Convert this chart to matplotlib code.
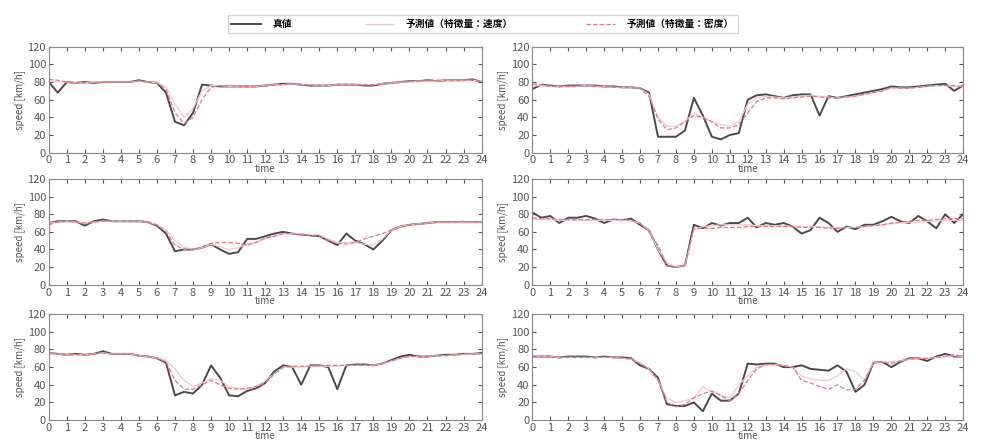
import numpy as np
import matplotlib
matplotlib.use("Agg")
import matplotlib.pyplot as plt

plt.rcParams['font.family'] = ['Noto Sans CJK JP', 'DejaVu Sans']

# time axis: every 30 minutes, 0..24 h
hours = np.arange(0, 24.5, 0.5)

labels = ['真値', '予測値（特徴量：速度）', '予測値（特徴量：密度）']

# panel 1 (top left)
true_1 = [80, 68, 80, 79, 80, 79, 80, 80, 80, 80, 82, 80, 79, 68, 35, 31, 45, 77, 76, 75,
          75, 75, 75, 75, 76, 77, 78, 78, 77, 76, 76, 76, 77, 77, 77, 76, 76, 78, 79, 80,
          81, 81, 82, 81, 82, 82, 82, 83, 80]
speed_1 = [81, 80, 80, 79, 79, 80, 80, 80, 80, 80, 81, 80, 79, 75, 55, 40, 50, 70, 76, 76,
           75, 75, 75, 75, 76, 77, 77, 78, 77, 77, 76, 76, 77, 77, 77, 77, 77, 78, 79, 80,
           80, 81, 81, 81, 82, 82, 82, 82, 81]
dens_1 = [83, 82, 80, 79, 79, 79, 80, 80, 80, 80, 81, 80, 79, 72, 45, 33, 40, 60, 74, 76,
          76, 75, 75, 75, 76, 77, 77, 78, 77, 77, 76, 76, 77, 77, 77, 77, 77, 78, 79, 80,
          81, 81, 82, 82, 82, 82, 82, 82, 81]

# panel 2 (top right)
true_2 = [72, 77, 76, 75, 76, 76, 76, 76, 75, 75, 74, 74, 73, 68, 18, 18, 18, 25, 62, 42,
          18, 15, 20, 22, 60, 65, 66, 64, 62, 65, 66, 66, 42, 64, 62, 64, 66, 68, 70, 72,
          75, 74, 74, 75, 76, 77, 78, 70, 76]
speed_2 = [76, 76, 75, 75, 75, 75, 76, 75, 75, 74, 74, 74, 73, 66, 40, 30, 30, 35, 45, 40,
           35, 32, 30, 35, 55, 62, 64, 63, 62, 63, 64, 65, 64, 63, 62, 63, 64, 66, 68, 70,
           73, 73, 73, 74, 75, 76, 76, 75, 75]
dens_2 = [78, 77, 75, 75, 75, 75, 76, 75, 75, 74, 74, 74, 73, 64, 38, 26, 28, 35, 42, 40,
          35, 28, 28, 32, 45, 58, 62, 62, 61, 62, 63, 64, 63, 62, 62, 63, 64, 66, 68, 70,
          74, 73, 73, 74, 75, 76, 76, 76, 75]

# panel 3 (middle left)
true_3 = [70, 72, 72, 72, 67, 72, 74, 72, 72, 72, 72, 71, 67, 58, 38, 40, 40, 42, 46, 40,
          35, 37, 52, 52, 55, 58, 60, 58, 57, 56, 55, 50, 45, 58, 50, 46, 40, 50, 62, 66,
          68, 69, 70, 71, 71, 71, 71, 71, 71]
speed_3 = [70, 71, 72, 71, 70, 71, 72, 72, 72, 72, 72, 71, 68, 62, 50, 43, 40, 42, 46, 43,
           40, 42, 46, 48, 52, 55, 58, 58, 58, 57, 57, 52, 48, 48, 48, 46, 45, 52, 62, 66,
           68, 69, 70, 71, 71, 71, 71, 71, 71]
dens_3 = [68, 71, 72, 71, 70, 71, 72, 72, 72, 72, 72, 71, 68, 60, 45, 40, 40, 43, 47, 48,
          48, 47, 45, 48, 53, 55, 58, 58, 57, 56, 55, 50, 47, 46, 48, 52, 55, 58, 62, 65,
          68, 69, 70, 71, 71, 71, 72, 71, 71]

# panel 4 (middle right)
true_4 = [82, 76, 78, 70, 76, 76, 78, 75, 70, 74, 73, 75, 68, 62, 40, 22, 20, 22, 68, 64,
          70, 67, 70, 70, 76, 65, 70, 68, 70, 66, 58, 62, 76, 70, 60, 66, 63, 68, 68, 72,
          77, 72, 70, 78, 72, 64, 80, 70, 80]
speed_4 = [74, 74, 74, 73, 73, 73, 73, 73, 73, 73, 73, 72, 70, 62, 40, 25, 20, 22, 62, 66,
           67, 68, 68, 68, 68, 67, 67, 67, 67, 66, 66, 66, 66, 65, 65, 65, 65, 66, 67, 68,
           69, 70, 71, 71, 72, 72, 73, 73, 73]
dens_4 = [76, 75, 75, 74, 74, 74, 74, 74, 74, 74, 74, 73, 70, 60, 45, 22, 20, 22, 64, 64,
          64, 65, 65, 65, 66, 66, 66, 66, 66, 66, 65, 65, 65, 64, 64, 65, 65, 66, 67, 68,
          70, 71, 72, 73, 73, 74, 75, 75, 75]

# panel 5 (bottom left)
true_5 = [76, 75, 74, 75, 74, 75, 78, 75, 75, 75, 73, 72, 70, 65, 28, 32, 30, 40, 62, 48,
          28, 27, 33, 36, 42, 55, 62, 60, 40, 62, 62, 60, 35, 62, 63, 63, 62, 64, 68, 72,
          74, 72, 72, 73, 74, 74, 75, 75, 76]
speed_5 = [75, 75, 74, 74, 74, 75, 76, 75, 75, 75, 73, 72, 70, 68, 58, 45, 38, 42, 47, 45,
           38, 36, 35, 38, 45, 52, 60, 60, 60, 61, 61, 61, 61, 62, 62, 62, 62, 64, 67, 70,
           72, 72, 72, 73, 73, 74, 74, 75, 75]
dens_5 = [77, 75, 74, 74, 74, 75, 76, 75, 75, 75, 73, 72, 70, 66, 45, 35, 35, 40, 45, 40,
          36, 35, 36, 38, 42, 52, 60, 61, 61, 61, 62, 62, 62, 62, 62, 62, 62, 64, 67, 70,
          72, 72, 72, 73, 73, 74, 75, 75, 75]

# panel 6 (bottom right)
true_6 = [72, 72, 72, 71, 72, 72, 72, 71, 72, 71, 71, 70, 62, 58, 48, 18, 16, 16, 20, 10,
          30, 22, 22, 30, 64, 63, 64, 64, 60, 60, 62, 58, 57, 56, 62, 55, 32, 40, 65, 66,
          60, 66, 70, 70, 67, 72, 75, 72, 72]
speed_6 = [72, 72, 72, 71, 71, 71, 71, 71, 71, 71, 70, 69, 65, 58, 45, 25, 20, 22, 25, 38,
           32, 28, 25, 40, 50, 60, 62, 63, 62, 60, 50, 47, 45, 45, 50, 58, 55, 45, 65, 66,
           66, 67, 69, 70, 70, 71, 72, 73, 72]
dens_6 = [72, 72, 72, 71, 71, 71, 71, 71, 71, 71, 70, 69, 64, 58, 45, 20, 15, 18, 25, 30,
          33, 28, 22, 30, 45, 58, 63, 63, 62, 60, 45, 42, 38, 35, 40, 34, 35, 45, 65, 66,
          64, 67, 69, 70, 70, 71, 72, 74, 72]

panels = [
    (true_1, speed_1, dens_1), (true_2, speed_2, dens_2),
    (true_3, speed_3, dens_3), (true_4, speed_4, dens_4),
    (true_5, speed_5, dens_5), (true_6, speed_6, dens_6),
]

fig = plt.figure(figsize=(9.95, 4.45), dpi=100)

lefts = [0.049, 0.535]
widths = [0.435, 0.433]
bottoms = [0.657, 0.36, 0.056]
height = 0.238

handles = None
for i, (tv, sp, dn) in enumerate(panels):
    r, c = divmod(i, 2)
    ax = fig.add_axes([lefts[c], bottoms[r], widths[c], height])
    l1, = ax.plot(hours, tv, color='#4a4a4a', lw=1.4)
    l2, = ax.plot(hours, sp, color='#f0c8cf', lw=0.9)
    l3, = ax.plot(hours, dn, color='#e07a85', lw=0.9, ls='--')
    handles = [l1, l2, l3]
    ax.set_xlim(0, 24)
    ax.set_ylim(0, 120)
    ax.set_xticks(range(0, 25))
    ax.set_yticks(range(0, 121, 20))
    ax.tick_params(direction='in', top=True, right=True, labelsize=8,
                   colors='#555555', length=3, pad=2)
    for s in ax.spines.values():
        s.set_color('#888888')
    ax.set_xlabel('time', fontsize=7, color='#555555', labelpad=-1)
    ax.set_ylabel('speed [km/h]', fontsize=7, color='#555555', labelpad=2)

fig.legend(handles, labels, loc='center', bbox_to_anchor=(0.485, 0.946),
           ncol=3, prop={'size': 7, 'weight': 'bold'}, handlelength=3,
           columnspacing=7.5, handletextpad=1.2,
           frameon=True, fancybox=False, edgecolor='#cccccc')

fig.savefig('out.png', dpi=100)
